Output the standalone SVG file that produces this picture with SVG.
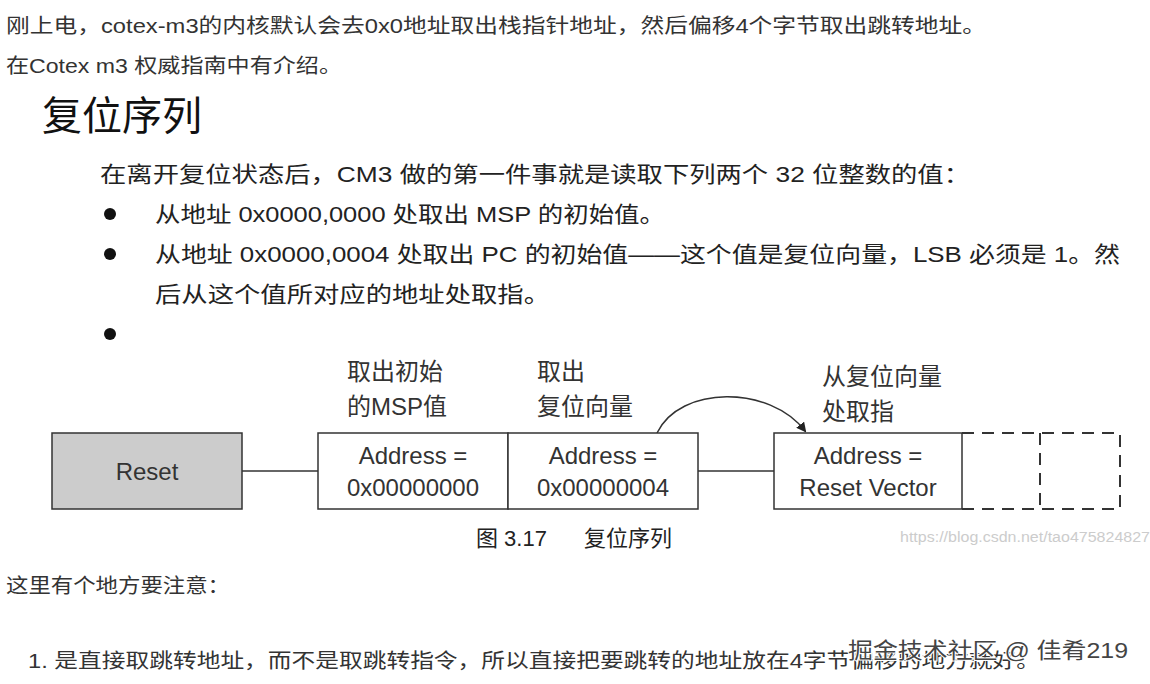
<svg xmlns="http://www.w3.org/2000/svg" width="1150" height="684" viewBox="0 0 1150 684">
<style>
text{font-family:"Liberation Sans","Noto Sans CJK SC",sans-serif;fill:#222}
.b{font-size:20px;fill:#333}
.p{font-size:22px}
.d{font-size:24px;fill:#333}
.box{fill:#fff;stroke:#333;stroke-width:1.5}
.ln{stroke:#333;stroke-width:1.5;fill:none}
.dash{stroke:#333;stroke-width:2;fill:none;stroke-dasharray:12 8}
</style>
<defs><marker id="ah" markerWidth="10" markerHeight="10" refX="8" refY="5" orient="auto" markerUnits="userSpaceOnUse"><path d="M0,0 L10,5 L0,10 Z" fill="#222"/></marker></defs>
<rect width="1150" height="684" fill="#fff"/>
<text class="b" x="6" y="33" textLength="980" lengthAdjust="spacingAndGlyphs">刚上电，cotex-m3的内核默认会去0x0地址取出栈指针地址，然后偏移4个字节取出跳转地址。</text>
<text class="b" x="6" y="73" textLength="336" lengthAdjust="spacingAndGlyphs">在Cotex m3 权威指南中有介绍。</text>
<text x="42" y="130" style="font-size:40px;fill:#111">复位序列</text>
<text class="p" x="100" y="182" textLength="870" lengthAdjust="spacingAndGlyphs">在离开复位状态后，CM3 做的第一件事就是读取下列两个 32 位整数的值：</text>
<circle cx="110" cy="214" r="6" fill="#111"/><circle cx="110" cy="254" r="6" fill="#111"/><circle cx="110" cy="334" r="6" fill="#111"/>
<text class="p" x="155" y="222" textLength="510" lengthAdjust="spacingAndGlyphs">从地址 0x0000,0000 处取出 MSP 的初始值。</text>
<text class="p" x="155" y="262" textLength="965" lengthAdjust="spacingAndGlyphs">从地址 0x0000,0004 处取出 PC 的初始值——这个值是复位向量，LSB 必须是 1。然</text>
<text class="p" x="155" y="302" textLength="395" lengthAdjust="spacingAndGlyphs">后从这个值所对应的地址处取指。</text>
<g id="connectors">
<line class="ln" x1="242" y1="471" x2="318" y2="471"/>
<line class="ln" x1="698" y1="471" x2="774" y2="471"/>
<path class="ln" d="M657,433 C680,385 770,385 805,431" marker-end="url(#ah)"/>
</g>
<g id="reset"><rect x="52" y="433" width="190" height="76" fill="#ccc" stroke="#333" stroke-width="1.5"/><text class="d" x="147" y="480" text-anchor="middle">Reset</text></g>
<g id="addr0"><rect class="box" x="318" y="433" width="190" height="76"/><text class="d" x="413" y="464" text-anchor="middle">Address =</text><text class="d" x="413" y="496" text-anchor="middle">0x00000000</text></g>
<g id="addr4"><rect class="box" x="508" y="433" width="190" height="76"/><text class="d" x="603" y="464" text-anchor="middle">Address =</text><text class="d" x="603" y="496" text-anchor="middle">0x00000004</text></g>
<g id="addrv"><rect class="box" x="774" y="433" width="188" height="76"/><text class="d" x="868" y="464" text-anchor="middle">Address =</text><text class="d" x="868" y="496" text-anchor="middle">Reset Vector</text></g>
<g id="dashed"><path class="dash" d="M962,433 H1120 V509 H962"/><line class="dash" x1="1040" y1="433" x2="1040" y2="509"/></g>
<text class="d" x="347" y="380">取出初始</text><text class="d" x="347" y="415">的MSP值</text>
<text class="d" x="537" y="380">取出</text><text class="d" x="537" y="415">复位向量</text>
<text class="d" x="822" y="385">从复位向量</text><text class="d" x="822" y="420">处取指</text>
<text class="p" x="476" y="546">图 3.17</text><text class="p" x="584" y="546">复位序列</text>
<text x="900" y="542" style="font-size:14px;fill:#ccc" textLength="250" lengthAdjust="spacingAndGlyphs">https://blog.csdn.net/tao475824827</text>
<text class="b" x="6" y="593" textLength="224" lengthAdjust="spacingAndGlyphs">这里有个地方要注意：</text>
<text class="b" x="28" y="668" textLength="1012" lengthAdjust="spacingAndGlyphs">1. 是直接取跳转地址，而不是取跳转指令，所以直接把要跳转的地址放在4字节偏移的地方就好。</text>
<text x="848" y="658" style="font-size:22px;fill:#444;stroke:#fff;stroke-width:2;paint-order:stroke" textLength="280" lengthAdjust="spacingAndGlyphs">掘金技术社区 @ 佳肴219</text>
</svg>
